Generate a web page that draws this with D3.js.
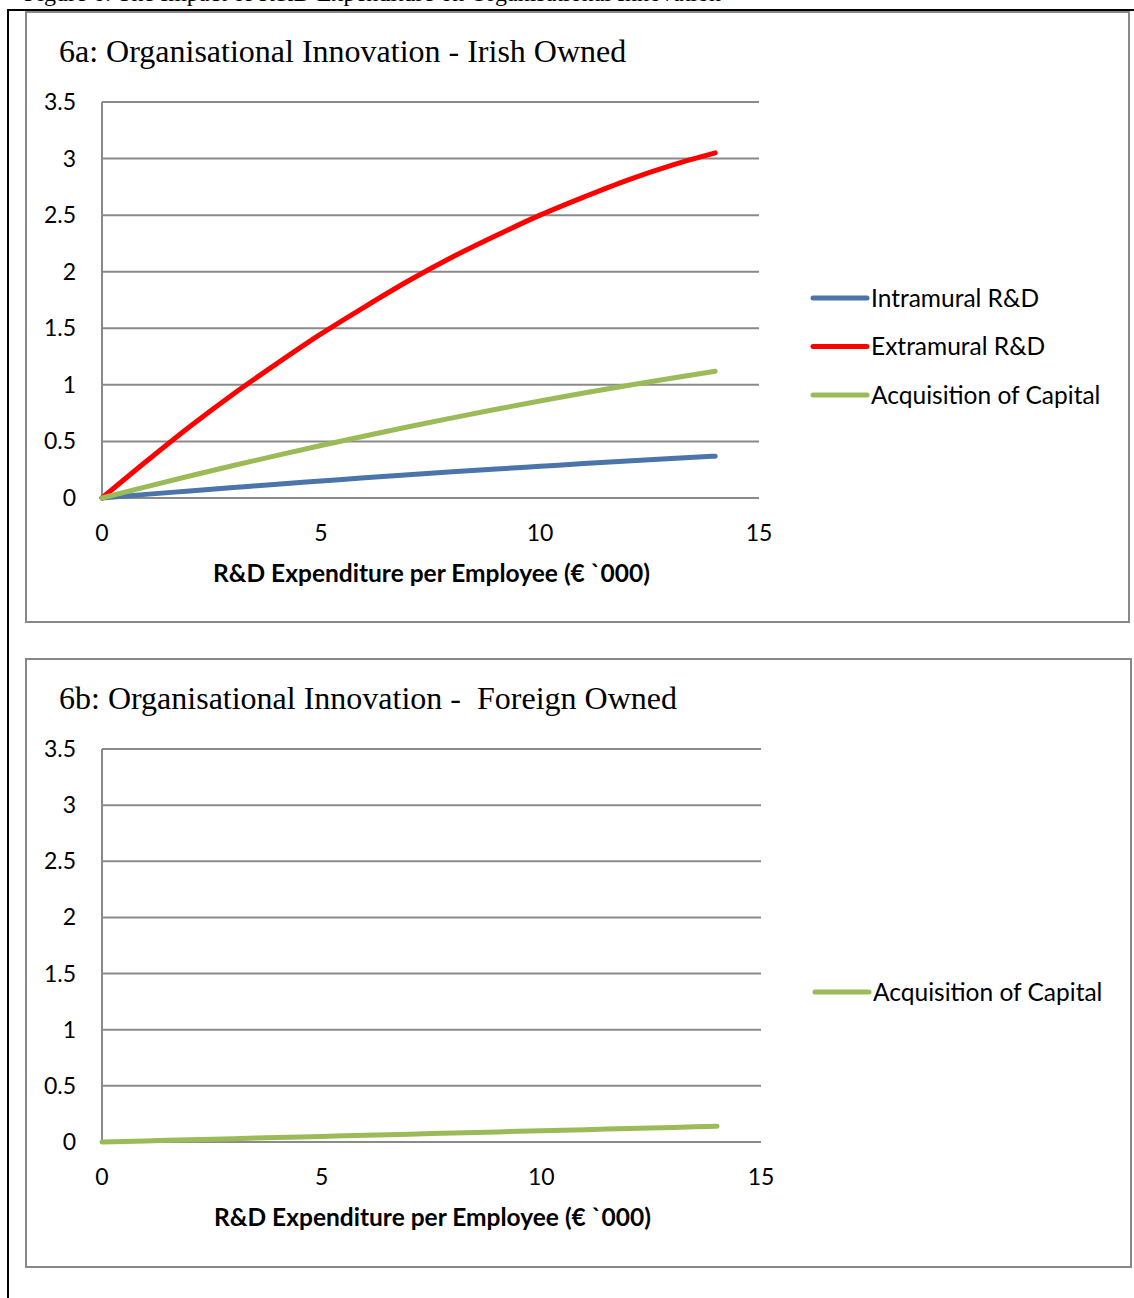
<!DOCTYPE html>
<html>
<head>
<meta charset="utf-8">
<script src="https://cdn.jsdelivr.net/npm/d3@7"></script>
<style>
html,body{margin:0;padding:0;background:#fff;overflow:hidden;}
svg{display:block;}
text{white-space:pre;}
</style>
</head>
<body>
<script>
// ---- data ----
const xValues = [0,1,2,3,4,5,6,7,8,9,10,11,12,13,14];
const intramuralA = [0,0.032,0.062,0.092,0.122,0.150,0.178,0.205,0.231,0.256,0.280,0.304,0.327,0.349,0.370];
const extramuralA = [0,0.32,0.63,0.92,1.19,1.45,1.69,1.92,2.13,2.32,2.50,2.66,2.81,2.94,3.05];
const capitalA = [0,0.098,0.194,0.287,0.377,0.464,0.548,0.630,0.708,0.784,0.857,0.928,0.995,1.059,1.12];
const capitalB = [0,0.01,0.02,0.03,0.04,0.05,0.06,0.07,0.08,0.09,0.10,0.11,0.12,0.13,0.14];
const yTicks = [0,0.5,1,1.5,2,2.5,3,3.5];
const xTicks = [0,5,10,15];
const caption = "Figure 6: The Impact of R&D Expenditure on Organisational Innovation";
const titleA = "6a: Organisational Innovation - Irish Owned";
const titleB = "6b: Organisational Innovation -  Foreign Owned";
const xTitle = "R&D Expenditure per Employee (€ `000)";
const seriesA = [
  {name:"Intramural R&D", values:intramuralA, color:"#4a74aa"},
  {name:"Extramural R&D", values:extramuralA, color:"#ff0000"},
  {name:"Acquisition of Capital", values:capitalA, color:"#9bbb59"}
];
const seriesB = [
  {name:"Acquisition of Capital", values:capitalB, color:"#9bbb59"}
];

const W = 1134, H = 1298;
const svg = d3.select("body").append("svg").attr("width", W).attr("height", H);

// caption (cut off at top, as in the reference)
svg.append("text").attr("x", 24).attr("y", 1)
  .attr("font-family", "'Liberation Serif', serif").attr("font-size", 24)
  .attr("fill", "#000").text(caption);

// outer frame
svg.append("path").attr("d", `M8,${H} V10 H${W+5}`).attr("fill","none")
  .attr("stroke","#000").attr("stroke-width",2);

const sans = "Lato, 'Open Sans', sans-serif";

function drawChart(cfg) {
  const g = svg.append("g");
  g.append("rect").attr("x", cfg.box[0]).attr("y", cfg.box[1])
    .attr("width", cfg.box[2]-cfg.box[0]).attr("height", cfg.box[3]-cfg.box[1])
    .attr("fill", "#fff").attr("stroke", "#888").attr("stroke-width", 2);
  g.append("text").attr("x", 59).attr("y", cfg.titleY)
    .attr("font-family", "'Liberation Serif', serif").attr("font-size", 32)
    .attr("fill", "#000").text(cfg.title);

  const x = d3.scaleLinear().domain([0,15]).range([cfg.plot[0], cfg.plot[2]]);
  const y = d3.scaleLinear().domain([0,3.5]).range([cfg.plot[3], cfg.plot[1]]);

  // gridlines
  g.append("g").selectAll("line").data(yTicks).join("line")
    .attr("x1", x(0)).attr("x2", x(15))
    .attr("y1", d => y(d)).attr("y2", d => y(d))
    .attr("stroke", "#8a8a8a").attr("stroke-width", 2);
  // y axis line
  g.append("line").attr("x1", x(0)).attr("x2", x(0)).attr("y1", y(0)).attr("y2", y(3.5))
    .attr("stroke", "#8a8a8a").attr("stroke-width", 2);

  // y labels
  g.append("g").selectAll("text").data(yTicks).join("text")
    .attr("x", x(0) - 26).attr("y", d => y(d)).attr("dy", "0.35em")
    .attr("text-anchor", "end").attr("font-family", sans).attr("font-size", 23)
    .attr("fill", "#000").text(d => d);
  // x labels
  g.append("g").selectAll("text").data(xTicks).join("text")
    .attr("x", d => x(d)).attr("y", y(0) + 35).attr("dy", "0.35em")
    .attr("text-anchor", "middle").attr("font-family", sans).attr("font-size", 23)
    .attr("fill", "#000").text(d => d);
  // x title
  g.append("text").attr("x", (x(0)+x(15))/2 + 1).attr("y", y(0) + 75).attr("dy", "0.35em")
    .attr("text-anchor", "middle").attr("font-family", sans).attr("font-size", 24.5)
    .attr("font-weight", "bold").attr("fill", "#000").text(xTitle);

  const line = d3.line().x((d,i) => x(xValues[i])).y(d => y(d)).curve(d3.curveMonotoneX);
  g.append("g").selectAll("path").data(cfg.series).join("path")
    .attr("d", d => line(d.values)).attr("fill", "none")
    .attr("stroke", d => d.color).attr("stroke-width", 5)
    .attr("stroke-linecap", "round").attr("stroke-linejoin", "round");

  // legend
  const lg = g.append("g").selectAll("g").data(cfg.series).join("g")
    .attr("transform", (d,i) => `translate(${cfg.legend[0]},${cfg.legend[1] + i*48.5})`);
  lg.append("line").attr("x1", 0).attr("x2", 54).attr("y1", 0).attr("y2", 0)
    .attr("stroke", d => d.color).attr("stroke-width", 5).attr("stroke-linecap", "round");
  lg.append("text").attr("x", 58).attr("y", 0).attr("dy", "0.35em")
    .attr("font-family", sans).attr("font-size", 24.5).attr("fill", "#000").text(d => d.name);
}

drawChart({box:[26,12,1129,622], plot:[102,102,759,498], titleY:62, title:titleA,
  series:seriesA, legend:[813,298]});
drawChart({box:[26,659,1131,1267], plot:[102,749,761,1142], titleY:709, title:titleB,
  series:seriesB, legend:[815,992]});
</script>
</body>
</html>
